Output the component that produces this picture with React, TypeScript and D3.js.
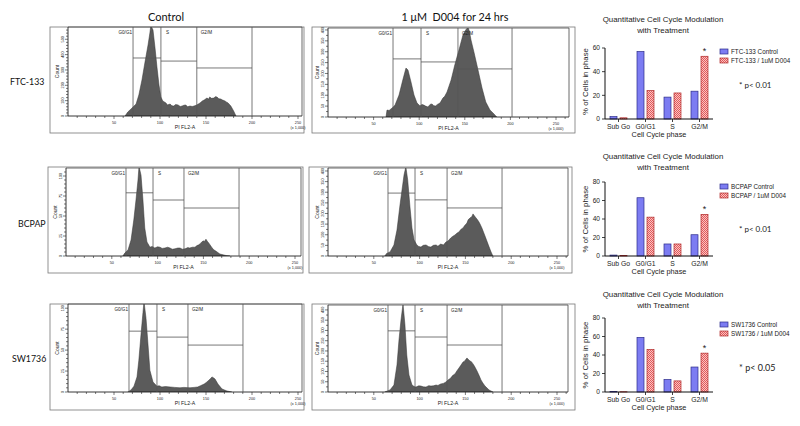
import React from 'react';
import * as d3 from 'd3';

// ---------- bar chart data ----------
const phaseCategories = ['Sub Go', 'G0/G1', 'S', 'G2/M'];
const ftcControl = [2, 57, 18.5, 23.5];
const ftcTreated = [1, 24, 22, 53];
const bcpapControl = [1, 63, 13, 23];
const bcpapTreated = [0.4, 42, 13, 45];
const swControl = [0.4, 59, 13.5, 27];
const swTreated = [0.3, 46, 12, 42];

// ---------- histogram data: [PI FL2-A (x1000), count] ----------
const ftcCtrlHist: [number, number][] = [
  [62, 0], [65, 26], [68.5, 46], [70.7, 59], [74, 78], [77, 137], [80.4, 235], [83.7, 352], [87, 463],
  [89, 541], [90, 590], [92.4, 560], [94.6, 443], [96.7, 319], [98.9, 202], [101, 124], [103, 98],
  [106.5, 85], [108, 72], [111, 78], [113, 66], [115, 65], [117, 75], [119.6, 72], [122, 62], [124, 65],
  [126, 70], [128, 72], [130, 60], [132.6, 65], [135, 62], [137, 65], [140, 72], [143.5, 85], [146, 98],
  [148, 104], [151, 117], [153, 110], [154, 124], [156, 115], [158.7, 117], [160, 126], [162, 124],
  [164, 112], [166, 111], [168, 104], [170.6, 98], [172, 92], [174, 85], [177, 65], [180, 33], [182.6, 0],
];
const ftcTrtHist: [number, number][] = [
  [63.6, 0], [64.7, 32], [67, 30], [69, 37], [71, 44], [73.5, 55], [77.9, 101], [82, 170], [85.5, 225],
  [87.7, 216], [91, 161], [94.3, 101], [97.6, 64], [100.9, 51], [103, 58], [105, 55], [107, 50],
  [109.6, 46], [112, 58], [114, 60], [116, 52], [118, 51], [120, 58], [122.8, 64], [126, 87], [128, 95],
  [130.5, 115], [135, 170], [139, 239], [143.6, 308], [148, 377], [151, 400], [153.5, 412], [155, 395],
  [156.8, 354], [160, 299], [164.5, 216], [168.9, 133], [173, 69], [177.6, 32], [182, 14], [185, 0],
];
const bcpapCtrlHist: [number, number][] = [
  [62, 0], [64.4, 4], [67.7, 7.5], [71, 20], [74, 45], [76.4, 70], [78.6, 95], [79.7, 112], [81.9, 101],
  [84, 70], [86, 35], [88.4, 17.5], [91.7, 11], [94, 12], [97, 10], [100, 11.5], [102.6, 11], [105, 9.5],
  [108, 10], [111, 11], [113.5, 10], [116, 8.5], [119, 9], [122, 10], [124.5, 10], [127, 8.5], [130, 9],
  [133, 10.5], [135, 10], [138, 11], [140.8, 11], [143, 13], [145, 14], [147, 16], [149.6, 19],
  [151, 18], [152.8, 21], [154.5, 18], [156, 16], [159, 11], [161, 8], [163.8, 6], [168, 2.5],
  [174.7, 0.6], [179, 0],
];
const bcpapTrtHist: [number, number][] = [
  [62, 0], [64, 12], [67.7, 19], [72, 52], [75.3, 122], [78.6, 240], [80.8, 311], [83, 381], [85, 420],
  [87, 358], [89.5, 231], [91.7, 132], [94, 75], [97, 52], [99, 45], [101.5, 42], [104, 50], [107, 52],
  [110, 44], [112.4, 42], [115, 50], [118, 52], [120, 46], [123, 56], [126, 52], [128.8, 66], [131, 70],
  [134, 85], [136, 92], [138.6, 99], [141, 108], [143, 113], [145, 125], [147.4, 132], [149, 142],
  [151.7, 155], [153, 170], [155, 179], [157, 185], [158.3, 198], [160, 188], [161.6, 179], [163, 172],
  [164.8, 160], [166, 150], [168, 132], [171.4, 94], [174.7, 56], [178, 19], [180, 0],
];
const swCtrlHist: [number, number][] = [
  [65, 0], [68.5, 2.4], [71.7, 7], [75, 18], [77, 38], [79.3, 68], [81.5, 95], [82.6, 108], [84.8, 88],
  [87, 56], [89, 26], [92.4, 12], [96.7, 7], [99, 7.5], [102, 6], [106, 6.5], [111, 6], [116, 5.5],
  [121.7, 5], [126, 5.5], [132.6, 5], [137, 5.5], [141, 6], [144, 7.5], [148, 9.5], [151, 12],
  [153, 14], [155, 16], [156.5, 18], [158, 17], [159.8, 15.5], [163, 9.5], [167.4, 3.6], [172.8, 1.2],
  [178, 0],
];
const swTrtHist: [number, number][] = [
  [62, 0], [67.7, 10], [72, 34], [75.3, 132], [77.5, 254], [79.7, 351], [81.9, 430], [84, 327],
  [86, 180], [88.4, 83], [91.7, 34], [94, 27], [96, 24], [99, 30], [101.5, 29], [104, 25], [107, 24],
  [110, 31], [112.4, 29], [115, 30], [118, 34], [120, 32], [123, 39], [126, 42], [128.8, 49], [131, 58],
  [134, 68], [136, 80], [138.6, 88], [141, 105], [143, 117], [145, 130], [147.4, 146], [149, 150],
  [151.7, 166], [153, 160], [155, 151], [156.5, 148], [158.3, 137], [160, 125], [162.7, 102],
  [165, 80], [167, 59], [169, 44], [171.4, 29], [175.8, 10], [180, 0],
];

// gates: boundaries in PI FL2-A units, horizontal gate levels in counts
const gateLabels = ['G0/G1', 'S', 'G2/M'];

type HistCfg = {
  data: [number, number][];
  left: number; x250: number; frameRight: number; top: number; bottom: number;
  yMax: number; yStep: number; yMinor: number; yLabelMax: number;
  box: [number, number, number, number];
  gates: number[]; gateLevels: number[];
};

const histPanels: HistCfg[] = [
  { data: ftcCtrlHist, left: 68, x250: 298, frameRight: 302, top: 27, bottom: 116, yMax: 580, yStep: 100, yMinor: 20, yLabelMax: 500,
    box: [50, 27, 304, 133], gates: [70.7, 101, 140, 200], gateLevels: [378, 358, 313] },
  { data: ftcTrtHist, left: 328, x250: 556, frameRight: 569, top: 28, bottom: 117, yMax: 409, yStep: 50, yMinor: 25, yLabelMax: 400,
    box: [312, 27, 575, 133], gates: [71.3, 102, 142.5, 201.8], gateLevels: [267, 253, 221] },
  { data: bcpapCtrlHist, left: 66, x250: 295, frameRight: 301, top: 168, bottom: 256, yMax: 110, yStep: 25, yMinor: 5, yLabelMax: 100,
    box: [48, 167, 303, 273], gates: [65.5, 95, 128.8, 188.9], gateLevels: [79, 70, 60] },
  { data: bcpapTrtHist, left: 328, x250: 557, frameRight: 568, top: 168, bottom: 256, yMax: 414, yStep: 50, yMinor: 25, yLabelMax: 400,
    box: [309, 167, 572, 273], gates: [65.5, 95, 130, 190], gateLevels: [296, 264, 226] },
  { data: swCtrlHist, left: 68, x250: 298, frameRight: 302, top: 304, bottom: 392, yMax: 105, yStep: 25, yMinor: 5, yLabelMax: 100,
    box: [50, 304, 304, 410], gates: [66.3, 96.7, 130.4, 190.2], gateLevels: [72.6, 65.5, 56] },
  { data: swTrtHist, left: 328, x250: 557, frameRight: 568, top: 305, bottom: 392, yMax: 424, yStep: 50, yMinor: 25, yLabelMax: 400,
    box: [312, 304, 575, 410], gates: [65.5, 95, 130, 190], gateLevels: [298, 268, 229] },
];

const barRows = [
  { control: ftcControl, treated: ftcTreated, yMax: 60, yTicks: [0, 20, 40, 60], yZero: 119, yTopPx: 48, titleY: 22,
    legend: ['FTC-133 Control', 'FTC-133 / 1uM D004'], legendY: 49, pText: '* p< 0.01', pY: 88, pSize: 8 },
  { control: bcpapControl, treated: bcpapTreated, yMax: 80, yTicks: [0, 20, 40, 60, 80], yZero: 256, yTopPx: 182, titleY: 159,
    legend: ['BCPAP Control', 'BCPAP / 1uM D004'], legendY: 184, pText: '* p< 0.01', pY: 232, pSize: 8 },
  { control: swControl, treated: swTreated, yMax: 80, yTicks: [0, 20, 40, 60, 80], yZero: 392, yTopPx: 318, titleY: 297,
    legend: ['SW1736 Control', 'SW1736 / 1uM D004'], legendY: 322, pText: '* p< 0.05', pY: 371, pSize: 9 },
];

const rowLabels = [
  { text: 'FTC-133', x: 10, y: 85 },
  { text: 'BCPAP', x: 18, y: 227 },
  { text: 'SW1736', x: 12, y: 362 },
];

const SANS = 'Liberation Sans, Arial, sans-serif';
const TITLE_FONT = 'Lato, Calibri, sans-serif';

function Histogram({ cfg, idx }: { cfg: HistCfg; idx: number }) {
  const x = d3.scaleLinear().domain([0, 250]).range([cfg.left, cfg.x250]);
  const y = d3.scaleLinear().domain([0, cfg.yMax]).range([cfg.bottom, cfg.top]);
  const area = d3.area<[number, number]>().x(d => x(d[0])).y0(cfg.bottom).y1(d => y(d[1])).curve(d3.curveLinear);
  const xMax = x.invert(cfg.frameRight);
  const minorX = d3.range(10, xMax, 10);
  const majorX = [50, 100, 150, 200, 250];
  const minorY = d3.range(0, cfg.yMax, cfg.yMinor);
  const majorY = d3.range(0, cfg.yLabelMax + 1, cfg.yStep);
  const [bx0, by0, bx1, by1] = cfg.box;
  const clipId = `hclip${idx}`;
  const gateColor = '#555';
  return (
    <g>
      <defs>
        <clipPath id={clipId}>
          <rect x={cfg.left} y={cfg.top} width={cfg.frameRight - cfg.left} height={cfg.bottom - cfg.top} />
        </clipPath>
      </defs>
      <rect x={bx0} y={by0} width={bx1 - bx0} height={by1 - by0} fill="white" stroke="#777" strokeWidth={0.8} />
      <path d={area(cfg.data) || ''} fill="#5b5b5b" stroke="#333" strokeWidth={0.5} clipPath={`url(#${clipId})`} />
      {/* frame */}
      <line x1={cfg.left} x2={cfg.frameRight} y1={cfg.top} y2={cfg.top} stroke="#444" strokeWidth={0.8} />
      <line x1={cfg.frameRight} x2={cfg.frameRight} y1={cfg.top} y2={cfg.bottom} stroke="#444" strokeWidth={0.8} />
      <line x1={cfg.left} x2={cfg.frameRight} y1={cfg.bottom} y2={cfg.bottom} stroke="#222" strokeWidth={0.9} />
      <line x1={cfg.left} x2={cfg.left} y1={cfg.top} y2={cfg.bottom} stroke="#222" strokeWidth={0.9} />
      {/* gates */}
      {cfg.gates.map((g, i) => (
        <line key={`gv${i}`} x1={x(g)} x2={x(g)} y1={cfg.top} y2={cfg.bottom} stroke={gateColor} strokeWidth={0.8} />
      ))}
      {cfg.gateLevels.map((lv, i) => (
        <line key={`gh${i}`} x1={x(cfg.gates[i])} x2={x(cfg.gates[i + 1])} y1={y(lv)} y2={y(lv)} stroke={gateColor} strokeWidth={0.8} />
      ))}
      {gateLabels.map((lab, i) => (
        <text key={`gl${i}`} x={i === 0 ? x(cfg.gates[0]) - 1 : x(cfg.gates[i]) + (i === 1 ? 5 : 4)} y={cfg.top + 7}
          textAnchor={i === 0 ? 'end' : 'start'} fontSize={4.6} fontFamily={SANS} fill="#222">{lab}</text>
      ))}
      {/* x ticks */}
      {minorX.map(v => (
        <line key={`mx${v}`} x1={x(v)} x2={x(v)} y1={cfg.bottom} y2={cfg.bottom + (v % 50 === 0 ? 3 : 2)} stroke="#222" strokeWidth={0.6} />
      ))}
      {majorX.map(v => (
        <text key={`tx${v}`} x={x(v)} y={cfg.bottom + 8} textAnchor="middle" fontSize={3.8} fontFamily={SANS} fill="#222">{v}</text>
      ))}
      <text x={x(250)} y={cfg.bottom + 13} textAnchor="middle" fontSize={3.8} fontFamily={SANS} fill="#222">(x 1,000)</text>
      <text x={(cfg.left + cfg.frameRight) / 2} y={cfg.bottom + 13} textAnchor="middle" fontSize={5.2} fontFamily={SANS} fill="#222">PI FL2-A</text>
      {/* y ticks */}
      {minorY.map(v => (
        <line key={`my${v}`} x1={cfg.left} x2={cfg.left - (v % cfg.yStep === 0 ? 3 : 2)} y1={y(v)} y2={y(v)} stroke="#222" strokeWidth={0.6} />
      ))}
      {majorY.map(v => (
        <text key={`ty${v}`} transform={`translate(${cfg.left - 4},${y(v)}) rotate(-90)`} textAnchor="middle" fontSize={3.8} fontFamily={SANS} fill="#222">{v}</text>
      ))}
      <text transform={`translate(${cfg.left - 9},${(cfg.top + cfg.bottom) / 2}) rotate(-90)`} textAnchor="middle" fontSize={5} fontFamily={SANS} fill="#222">Count</text>
    </g>
  );
}

function BarChart({ row, idx }: { row: typeof barRows[number]; idx: number }) {
  const x = d3.scaleBand<string>().domain(phaseCategories).range([605, 713]);
  const y = d3.scaleLinear().domain([0, row.yMax]).range([row.yZero, row.yTopPx]);
  const bw = 7;
  const legX = 720;
  return (
    <g fontFamily={SANS}>
      <text x={663} y={row.titleY} textAnchor="middle" fontSize={7.9} fill="#222">Quantitative Cell Cycle Modulation</text>
      <text x={663} y={row.titleY + 11} textAnchor="middle" fontSize={7.9} fill="#222">with Treatment</text>
      {/* bars */}
      {phaseCategories.map((c, i) => {
        const cx = (x(c) as number) + x.bandwidth() / 2;
        return (
          <g key={c}>
            <rect x={cx - 8.5} y={y(row.control[i])} width={bw} height={row.yZero - y(row.control[i])} fill="#7c7cf2" stroke="#2c2c8a" strokeWidth={0.7} />
            <rect x={cx + 1.5} y={y(row.treated[i])} width={bw} height={row.yZero - y(row.treated[i])} fill="url(#checker)" stroke="#b02828" strokeWidth={0.7} />
          </g>
        );
      })}
      <text x={(x('G2/M') as number) + x.bandwidth() / 2 + 5} y={y(row.treated[3]) - 2} textAnchor="middle" fontSize={9} fill="#222">*</text>
      {/* axes */}
      <line x1={605} x2={605} y1={row.yTopPx} y2={row.yZero} stroke="#111" strokeWidth={1} />
      <line x1={605} x2={713} y1={row.yZero} y2={row.yZero} stroke="#111" strokeWidth={1} />
      {row.yTicks.map(t => (
        <g key={t}>
          <line x1={602} x2={605} y1={y(t)} y2={y(t)} stroke="#111" strokeWidth={0.8} />
          <text x={600} y={y(t) + 2.3} textAnchor="end" fontSize={6.6} fill="#222">{t}</text>
        </g>
      ))}
      {phaseCategories.map(c => {
        const cx = (x(c) as number) + x.bandwidth() / 2;
        return (
          <g key={`xt${c}`}>
            <line x1={cx} x2={cx} y1={row.yZero} y2={row.yZero + 3} stroke="#111" strokeWidth={0.8} />
            <text x={cx} y={row.yZero + 9.5} textAnchor="middle" fontSize={6.8} fill="#222">{c}</text>
          </g>
        );
      })}
      <text x={659} y={row.yZero + 18} textAnchor="middle" fontSize={7.3} fill="#222">Cell Cycle phase</text>
      <text transform={`translate(${588},${(row.yZero + row.yTopPx) / 2 - (idx === 0 ? 2 : 0)}) rotate(-90)`} textAnchor="middle" fontSize={7.8} fill="#222">% of Cells in phase</text>
      {/* legend */}
      <rect x={legX} y={row.legendY} width={8} height={5} fill="#7c7cf2" stroke="#2c2c8a" strokeWidth={0.7} />
      <text x={legX + 11} y={row.legendY + 4.6} fontSize={6.3} fill="#222">{row.legend[0]}</text>
      <rect x={legX} y={row.legendY + 9} width={8} height={5} fill="url(#checker)" stroke="#b02828" strokeWidth={0.7} />
      <text x={legX + 11} y={row.legendY + 13.6} fontSize={6.3} fill="#222">{row.legend[1]}</text>
      <text x={739} y={row.pY} fontSize={row.pSize} fontFamily={TITLE_FONT} fill="#222">{row.pText}</text>
    </g>
  );
}

export default function App() {
  return (
    <svg width={800} height={426} viewBox="0 0 800 426" style={{ position: 'absolute', left: 0, top: 0, background: 'white' }}>
      <defs>
        <pattern id="checker" patternUnits="userSpaceOnUse" width={2} height={2}>
          <rect width={2} height={2} fill="#f8c4c4" />
          <rect width={1} height={1} fill="#e45858" />
          <rect x={1} y={1} width={1} height={1} fill="#e45858" />
        </pattern>
      </defs>
      <rect width={800} height={426} fill="white" />
      <text x={166} y={21} textAnchor="middle" fontSize={11} fontFamily={TITLE_FONT} fill="#111">Control</text>
      <text x={455} y={21} textAnchor="middle" fontSize={10.8} fontFamily={TITLE_FONT} fill="#111" style={{ whiteSpace: 'pre' }}>1 μM  D004 for 24 hrs</text>
      {rowLabels.map(r => (
        <text key={r.text} x={r.x} y={r.y} fontSize={8.8} fontFamily={TITLE_FONT} fill="#111">{r.text}</text>
      ))}
      {histPanels.map((p, i) => <Histogram key={i} cfg={p} idx={i} />)}
      {barRows.map((r, i) => <BarChart key={i} row={r} idx={i} />)}
    </svg>
  );
}
